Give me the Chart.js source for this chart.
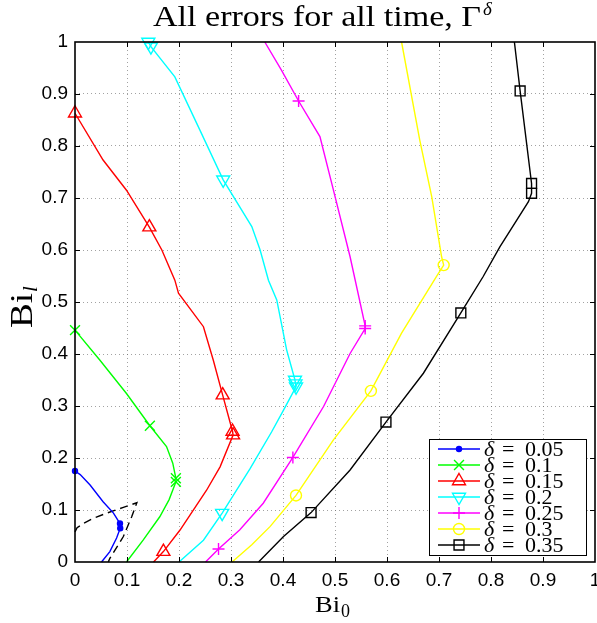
<!DOCTYPE html>
<html>
<head>
<meta charset="utf-8">
<script src="https://cdn.jsdelivr.net/npm/chart.js@4.4.1/dist/chart.umd.min.js"></script>
<style>
  html, body { margin: 0; padding: 0; background: #fff; }
  #wrap { width: 597px; height: 623px; }
</style>
</head>
<body>
<div id="wrap"><canvas id="chart" width="597" height="623"></canvas></div>
<script>
// ---- curves of Bi_l against Bi_0, one per delta ----
const deltas = ['0.05', '0.1', '0.15', '0.2', '0.25', '0.3', '0.35'];
const tickValues = [0, 0.1, 0.2, 0.3, 0.4, 0.5, 0.6, 0.7, 0.8, 0.9, 1];

const d05x = [0, 0.01, 0.029, 0.054, 0.074, 0.0865, 0.087, 0.08, 0.067, 0.051];
const d05y = [0.175, 0.168, 0.148, 0.116, 0.094, 0.074, 0.065, 0.046, 0.02, 0];
const d05m = [0, 5, 6];

const d10x = [0, 0.048, 0.099, 0.144, 0.176, 0.188, 0.194, 0.194, 0.181, 0.163, 0.131, 0.099];
const d10y = [0.446, 0.388, 0.324, 0.262, 0.222, 0.19, 0.161, 0.154, 0.12, 0.087, 0.042, 0];
const d10m = [0, 3, 6, 7];

const d15x = [0, 0.054, 0.099, 0.143, 0.167, 0.192, 0.199, 0.247, 0.266, 0.284, 0.303, 0.304, 0.279, 0.253, 0.202, 0.17, 0.151];
const d15y = [0.863, 0.773, 0.715, 0.644, 0.6, 0.542, 0.517, 0.4525, 0.388, 0.321, 0.251, 0.244, 0.183, 0.138, 0.0615, 0.02, 0];
const d15m = [0, 3, 9, 10, 11, 15];

const d20x = [0.141, 0.146, 0.192, 0.24, 0.285, 0.34, 0.356, 0.372, 0.388, 0.407, 0.423, 0.424, 0.425, 0.401, 0.378, 0.337, 0.283, 0.247, 0.2];
const d20y = [1.0, 0.991, 0.933, 0.831, 0.735, 0.645, 0.6, 0.542, 0.504, 0.408, 0.35, 0.343, 0.337, 0.292, 0.25, 0.18, 0.094, 0.042, 0];
const d20m = [0, 1, 4, 10, 11, 12, 16];

const d25x = [0.365, 0.397, 0.43, 0.471, 0.497, 0.529, 0.558, 0.558, 0.529, 0.478, 0.419, 0.362, 0.317, 0.276, 0.251];
const d25y = [1.0, 0.946, 0.8865, 0.818, 0.715, 0.587, 0.454, 0.449, 0.401, 0.299, 0.201, 0.113, 0.062, 0.025, 0];
const d25m = [2, 6, 7, 10, 13];

const d30x = [0.628, 0.663, 0.686, 0.705, 0.709, 0.695, 0.628, 0.569, 0.497, 0.425, 0.375, 0.34, 0.302];
const d30y = [1.0, 0.8115, 0.7025, 0.587, 0.571, 0.549, 0.44, 0.329, 0.235, 0.128, 0.068, 0.033, 0];
const d30m = [4, 7, 9];

const d35x = [0.845, 0.856, 0.878, 0.878, 0.872, 0.817, 0.785, 0.742, 0.67, 0.598, 0.529, 0.454, 0.401, 0.353];
const d35y = [1.0, 0.906, 0.728, 0.709, 0.693, 0.606, 0.549, 0.479, 0.363, 0.269, 0.177, 0.095, 0.049, 0];
const d35m = [1, 2, 3, 7, 9, 11];

// dashed boundary near the origin (not in the legend)
const bndX = [0, 0.004, 0.016, 0.035, 0.061, 0.093, 0.119, 0.109, 0.093, 0.067, 0.064];
const bndY = [0.058, 0.066, 0.074, 0.084, 0.094, 0.105, 0.114, 0.087, 0.049, 0.007, 0];

const seriesX = [d05x, d10x, d15x, d20x, d25x, d30x, d35x];
const seriesY = [d05y, d10y, d15y, d20y, d25y, d30y, d35y];
const seriesM = [d05m, d10m, d15m, d20m, d25m, d30m, d35m];

// matlab-ish line specs
const styles = [
  { color: '#0000ff', marker: 'circle', radius: 2.5, fill: true },
  { color: '#00ff00', marker: 'crossRot', radius: 7 },
  { color: '#ff0000', marker: 'triangle', radius: 7.5 },
  { color: '#00ffff', marker: 'triangle', radius: 7.5, rotation: 180 },
  { color: '#ff00ff', marker: 'cross', radius: 6 },
  { color: '#ffff00', marker: 'circle', radius: 5.5 },
  { color: '#000000', marker: 'rect', radius: 7 },
];

const SERIF = '"Liberation Serif", "Times New Roman", serif';
const SANS = '"Liberation Sans", Arial, sans-serif';
const LINE_W = 1.4;

const datasets = deltas.map((d, k) => {
  const st = styles[k];
  const xs = seriesX[k], ys = seriesY[k], marks = seriesM[k];
  return {
    label: 'delta = ' + d,
    data: xs.map((x, i) => ({ x: x, y: ys[i] })),
    showLine: true,
    borderColor: st.color,
    borderWidth: LINE_W,
    pointStyle: st.marker,
    pointRotation: st.rotation || 0,
    pointRadius: xs.map((_, i) => marks.includes(i) ? st.radius : 0),
    pointHoverRadius: xs.map((_, i) => marks.includes(i) ? st.radius : 0),
    pointBorderColor: st.color,
    pointBackgroundColor: st.fill ? st.color : 'rgba(0,0,0,0)',
    pointBorderWidth: LINE_W,
    clip: false,
  };
});

datasets.push({
  label: 'boundary',
  data: bndX.map((x, i) => ({ x: x, y: bndY[i] })),
  showLine: true,
  borderColor: '#000',
  borderWidth: LINE_W,
  borderDash: [8, 5],
  pointRadius: 0,
  pointHoverRadius: 0,
  clip: false,
});

// draw text squeezed/stretched to a given width
function fitText(ctx, text, x, y, width) {
  const w = ctx.measureText(text).width;
  ctx.save();
  ctx.translate(x, y);
  ctx.scale(width / w, 1);
  ctx.fillText(text, 0, 0);
  ctx.restore();
}

const fmtTick = (v) => {
  const n = Math.round(v * 10) / 10;
  if (n === 0) return '0';
  if (n === 1) return '1';
  return n.toFixed(1);
};

const gridColor = (c) => {
  const v = c.tick ? c.tick.value : 0;
  return (v < 0.05 || v > 0.95) ? 'rgba(0,0,0,0)' : 'rgba(100,100,100,0.6)';
};

// axes box, inward ticks on all four sides
const framePlugin = {
  id: 'frame',
  afterDatasetsDraw(chart) {
    const { ctx, chartArea: a, scales } = chart;
    ctx.save();
    ctx.strokeStyle = '#000';
    ctx.lineWidth = 1;
    tickValues.forEach((v) => {
      if (v <= 0 || v >= 1) return;
      const px = Math.round(scales.x.getPixelForValue(v)) + 0.5;
      const py = Math.round(scales.y.getPixelForValue(v)) + 0.5;
      ctx.beginPath();
      ctx.moveTo(px, a.bottom); ctx.lineTo(px, a.bottom - 5);
      ctx.moveTo(px, a.top); ctx.lineTo(px, a.top + 5);
      ctx.moveTo(a.left, py); ctx.lineTo(a.left + 5, py);
      ctx.moveTo(a.right, py); ctx.lineTo(a.right - 5, py);
      ctx.stroke();
    });
    ctx.lineWidth = 1.6;
    ctx.strokeRect(a.left, a.top, a.right - a.left, a.bottom - a.top);
    ctx.restore();
  }
};

const legendPlugin = {
  id: 'deltaLegend',
  afterDraw(chart) {
    const ctx = chart.ctx;
    const bx = 429.5, by = 439.5, bw = 157, bh = 116;
    ctx.save();
    ctx.fillStyle = '#fff';
    ctx.fillRect(bx, by, bw, bh);
    ctx.strokeStyle = '#000';
    ctx.lineWidth = 1;
    ctx.strokeRect(bx, by, bw, bh);

    deltas.forEach((d, i) => {
      const st = styles[i];
      const y = 449 + i * 16;
      ctx.strokeStyle = st.color;
      ctx.lineWidth = LINE_W;
      ctx.beginPath();
      ctx.moveTo(438, y);
      ctx.lineTo(480, y);
      ctx.stroke();
      ctx.fillStyle = st.fill ? st.color : 'rgba(0,0,0,0)';
      if (Chart.helpers && Chart.helpers.drawPoint) {
        Chart.helpers.drawPoint(ctx, {
          pointStyle: st.marker,
          radius: st.radius,
          rotation: st.rotation || 0,
          borderWidth: LINE_W,
        }, 459, y);
      }
      ctx.fillStyle = '#000';
      ctx.textBaseline = 'alphabetic';
      ctx.font = 'italic 22px ' + SERIF;
      ctx.fillText('\u03b4', 484, y + 7);
      ctx.font = '22px ' + SERIF;
      ctx.fillText('=', 502, y + 7);
      ctx.fillText(d, 525, y + 7);
    });
    ctx.restore();
  }
};

// title and axis labels with sub/superscripts
const labelPlugin = {
  id: 'labels',
  afterDraw(chart) {
    const ctx = chart.ctx;
    ctx.save();
    ctx.fillStyle = '#000';
    ctx.textBaseline = 'alphabetic';

    ctx.font = '29px ' + SERIF;
    fitText(ctx, 'All errors for all time, \u0393', 153, 26, 328);
    ctx.font = 'italic 19px ' + SERIF;
    ctx.fillText('\u03b4', 483, 15);

    // x label: Bi_0
    ctx.font = '23px ' + SERIF;
    fitText(ctx, 'Bi', 315, 612, 25);
    ctx.font = '18px ' + SERIF;
    ctx.fillText('0', 341, 617);

    // y label: Bi_l
    ctx.translate(32, 328);
    ctx.rotate(-Math.PI / 2);
    ctx.font = '31px ' + SERIF;
    fitText(ctx, 'Bi', 0, 0, 35);
    ctx.font = 'italic 21px ' + SERIF;
    ctx.fillText('l', 36, 5);
    ctx.restore();
  }
};

new Chart(document.getElementById('chart'), {
  type: 'scatter',
  data: { datasets: datasets },
  options: {
    responsive: false,
    animation: false,
    devicePixelRatio: 1,
    events: [],
    layout: { autoPadding: false, padding: { top: 42, right: 2, left: 0, bottom: 0 } },
    plugins: {
      legend: { display: false },
      tooltip: { enabled: false },
      title: { display: false },
    },
    scales: {
      x: {
        type: 'linear',
        min: 0,
        max: 1,
        afterFit: (s) => { s.height = 61; s.paddingLeft = 0; s.paddingRight = 0; },
        afterBuildTicks: (s) => { s.ticks = tickValues.map((v) => ({ value: v })); },
        ticks: {
          color: '#000',
          padding: 7,
          maxRotation: 0,
          font: { family: SANS, size: 19 },
          callback: fmtTick,
        },
        grid: { color: gridColor, lineWidth: 1, drawTicks: false },
        border: { display: false, dash: [1, 3] },
      },
      y: {
        type: 'linear',
        min: 0,
        max: 1,
        afterFit: (s) => { s.width = 75; s.paddingTop = 0; s.paddingBottom = 0; },
        afterBuildTicks: (s) => { s.ticks = tickValues.map((v) => ({ value: v })); },
        ticks: {
          color: '#000',
          padding: 7,
          font: { family: SANS, size: 19 },
          callback: fmtTick,
        },
        grid: { color: gridColor, lineWidth: 1, drawTicks: false },
        border: { display: false, dash: [1, 3] },
      },
    },
  },
  plugins: [framePlugin, legendPlugin, labelPlugin],
});
</script>
</body>
</html>
